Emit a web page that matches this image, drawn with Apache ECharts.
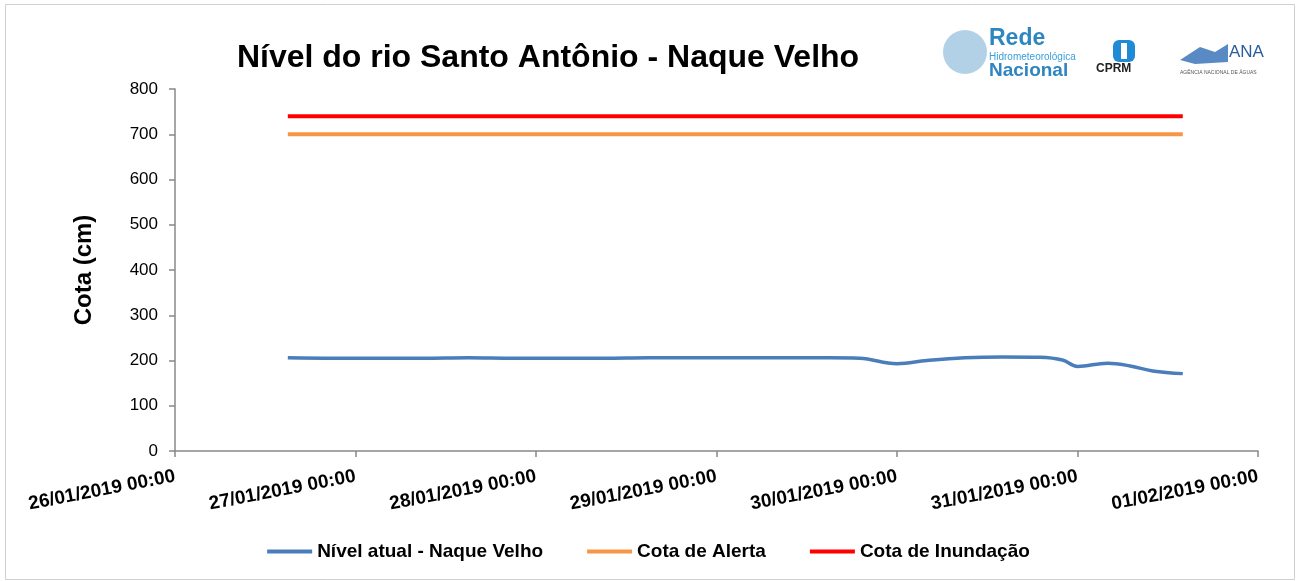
<!DOCTYPE html>
<html><head><meta charset="utf-8">
<script src="https://cdn.jsdelivr.net/npm/echarts@6/dist/echarts.min.js"></script>
<style>html,body{margin:0;padding:0;background:#fff}#c{width:1297px;height:581px}</style>
</head><body><div id="c"></div>
<script>
const title = 'Nível do rio Santo Antônio - Naque Velho';
const yAxisName = 'Cota (cm)';
const axisStart = '2019-01-26 00:00';
const axisEnd = '2019-02-01 00:00';
const seriesNames = ['Nível atual - Naque Velho', 'Cota de Alerta', 'Cota de Inundação'];
const times = ['2019-01-26 15:00','2019-01-26 21:00','2019-01-27 03:00','2019-01-27 09:00','2019-01-27 15:00','2019-01-27 21:00','2019-01-28 03:00','2019-01-28 09:00','2019-01-28 15:00','2019-01-28 21:00','2019-01-29 03:00','2019-01-29 09:00','2019-01-29 15:00','2019-01-29 19:00','2019-01-30 00:00','2019-01-30 04:00','2019-01-30 09:00','2019-01-30 14:00','2019-01-30 19:00','2019-01-30 22:00','2019-01-31 00:00','2019-01-31 04:00','2019-01-31 07:00','2019-01-31 10:00','2019-01-31 14:00'];
const nivel = [206,205,205,205,206,205,205,205,206,206,206,206,206,205,193,200,206,208,207,201,187,194,188,177,171];
const cotaAlerta = 700;
const cotaInundacao = 740;

function toMs(s){const [d,t]=s.split(' ');const [Y,M,D]=d.split('-').map(Number);const [h,m]=t.split(':').map(Number);return Date.UTC(Y,M-1,D,h,m);}
const base = toMs(axisStart);
const H = 3600000;
const hrs = s => (toMs(s)-base)/H;
const pad = n => String(n).padStart(2,'0');
function fmt(v){const d=new Date(base+v*H);return pad(d.getUTCDate())+'/'+pad(d.getUTCMonth()+1)+'/'+d.getUTCFullYear()+' '+pad(d.getUTCHours())+':'+pad(d.getUTCMinutes());}

const nivelData = times.map((t,i)=>[hrs(t),nivel[i]]);
const first = hrs(times[0]), last = hrs(times[times.length-1]);
const FONT = 'Liberation Sans';
const chart = echarts.init(document.getElementById('c'));
chart.setOption({
  animation:false,
  backgroundColor:'#fff',
  title:{text:title,left:543,top:37,textAlign:'center',textStyle:{fontFamily:FONT,fontSize:32,fontWeight:'bold',color:'#000'}},
  grid:{left:175,right:39,top:89,bottom:130},
  legend:{bottom:15,left:'center',itemWidth:45,itemHeight:4,itemGap:44,icon:'rect',
    textStyle:{fontFamily:FONT,fontSize:19,fontWeight:'bold',color:'#000'},data:seriesNames},
  xAxis:{type:'value',min:0,max:hrs(axisEnd),interval:24,
    axisLine:{lineStyle:{color:'#888',width:1.5}},axisTick:{show:true,length:6,lineStyle:{color:'#888',width:1.5}},
    splitLine:{show:false},
    axisLabel:{rotate:11,formatter:fmt,fontFamily:FONT,fontSize:19,fontWeight:'bold',color:'#000',margin:25}},
  yAxis:{type:'value',min:0,max:800,interval:100,name:yAxisName,nameLocation:'middle',nameGap:79,
    nameTextStyle:{fontFamily:FONT,fontSize:24,fontWeight:'bold',color:'#000'},
    axisLine:{show:true,lineStyle:{color:'#888',width:1.5}},axisTick:{show:true,length:6,lineStyle:{color:'#888',width:1.5}},
    splitLine:{show:false},
    axisLabel:{fontFamily:FONT,fontSize:17,color:'#000',margin:17}},
  series:[
    {name:seriesNames[0],type:'line',data:nivelData,smooth:0.4,showSymbol:false,lineStyle:{color:'#4a7ebb',width:3.5},itemStyle:{color:'#4a7ebb'},z:3},
    {name:seriesNames[1],type:'line',data:[[first,cotaAlerta],[last,cotaAlerta]],showSymbol:false,lineStyle:{color:'#f79646',width:4},itemStyle:{color:'#f79646'}},
    {name:seriesNames[2],type:'line',data:[[first,cotaInundacao],[last,cotaInundacao]],showSymbol:false,lineStyle:{color:'#ff0000',width:4},itemStyle:{color:'#ff0000'}}
  ],
  graphic:[
    {type:'rect',left:3,top:2,shape:{width:1289,height:575},style:{fill:'none',stroke:'#d0d0d0',lineWidth:1},silent:true},
    {type:'circle',left:943,top:30,shape:{r:22},style:{fill:'#7fb3d5',opacity:0.6}},
    {type:'text',left:989,top:27,style:{text:'Rede',font:'bold 23px "Liberation Sans Narrow", "Liberation Sans"',fill:'#2e86c1'}},
    {type:'text',left:989,top:52,style:{text:'Hidrometeorológica',font:'10px "Liberation Sans Narrow", "Liberation Sans"',fill:'#3aa0d8'}},
    {type:'text',left:989,top:61,style:{text:'Nacional',font:'bold 19px "Liberation Sans Narrow", "Liberation Sans"',fill:'#2e86c1'}},
    {type:'rect',left:1113,top:40,shape:{width:22,height:22,r:6},style:{fill:'#1f8ad6'}},
    {type:'rect',left:1121,top:43,shape:{width:6,height:16},style:{fill:'#fff'}},
    {type:'text',left:1096,top:63,style:{text:'CPRM',font:'bold 12px "Liberation Sans"',fill:'#222'}},
    {type:'text',left:1229,top:44,style:{text:'ANA',font:'17px "Liberation Sans"',fill:'#2b5c9e'}},
    {type:'polygon',shape:{points:[[1180,60],[1200,47],[1215,52],[1228,44],[1228,62],[1195,64]]},style:{fill:'#2f6db5',opacity:0.8}},
    {type:'text',left:1180,top:70,style:{text:'AGÊNCIA NACIONAL DE ÁGUAS',font:'5px "Liberation Sans"',fill:'#555'}}
  ]
});
</script></body></html>
